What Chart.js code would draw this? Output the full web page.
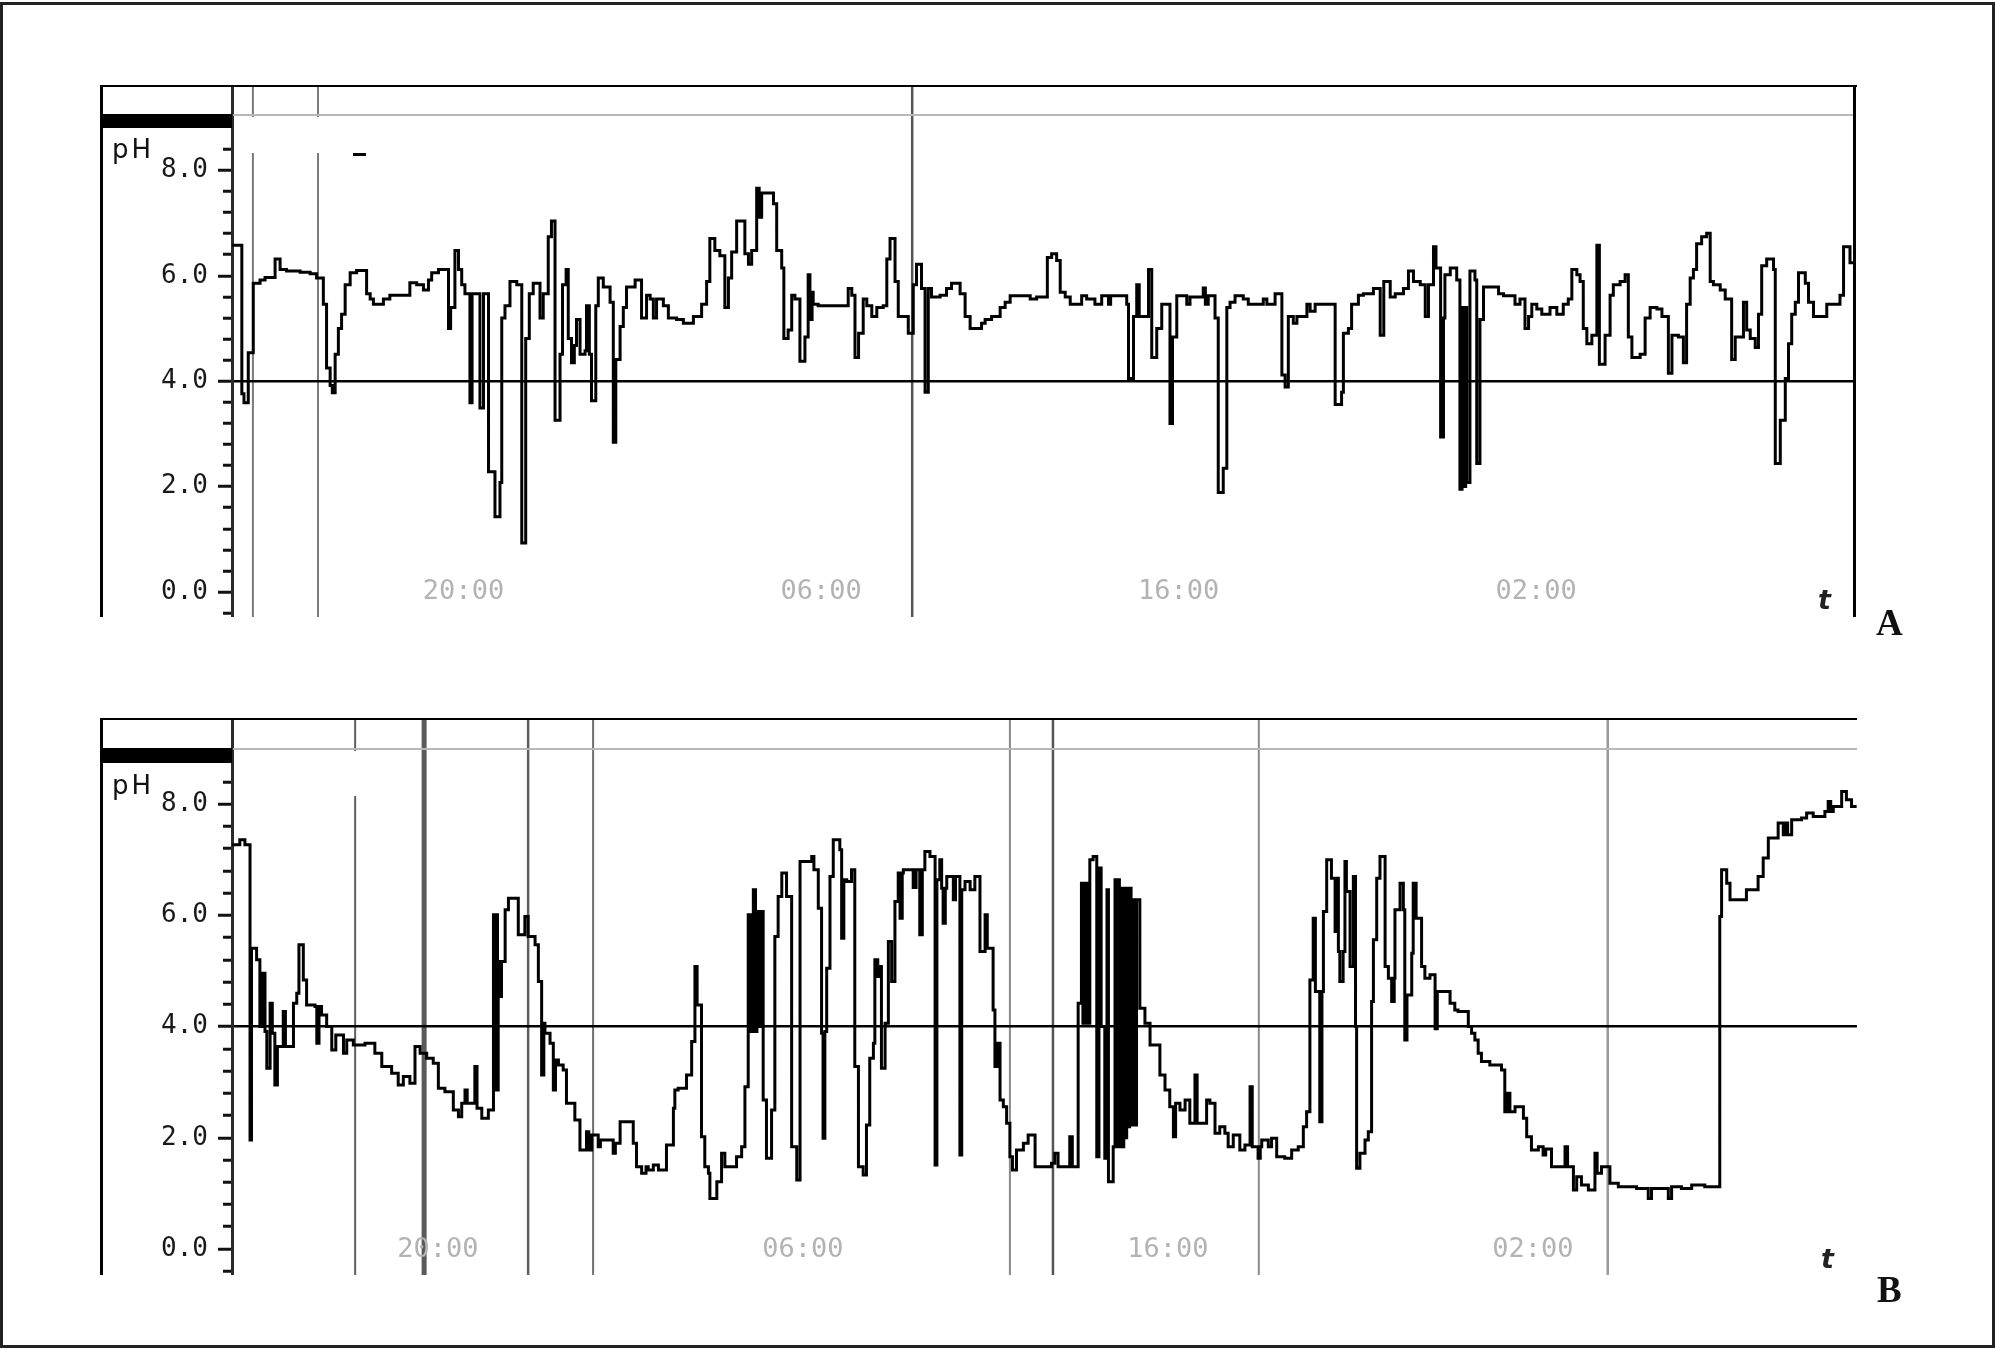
<!DOCTYPE html>
<html>
<head>
<meta charset="utf-8">
<script src="https://cdn.jsdelivr.net/npm/chart.js@4.4.1/dist/chart.umd.min.js"></script>
<style>
  body { margin: 0; background: #fff; width: 1996px; height: 1349px; position: relative; overflow: hidden; }
  .frame { position: absolute; left: 0; top: 2px; width: 1995px; height: 1346px; border: 3px solid #222; box-sizing: border-box; }
  .ln { position: absolute; background: #000; }
  .gray { background: #b8b8b8; }
  .white { position: absolute; background: #fff; }
  .ph { position: absolute; font-family: "DejaVu Sans", sans-serif; font-size: 26px; line-height: 26px; letter-spacing: 3px; color: #111; }
  .t { position: absolute; font-family: "DejaVu Sans", sans-serif; font-style: italic; font-weight: bold; font-size: 27px; line-height: 27px; color: #222; }
  .tag { position: absolute; font-family: "Liberation Serif", serif; font-weight: bold; font-size: 37px; line-height: 37px; color: #111; }
  canvas { position: absolute; }
</style>
</head>
<body>
<div class="frame"></div>

<!-- panel A -->
<canvas id="chartA" width="1754" height="531" style="left:101px;top:86px"></canvas>
<div class="white" style="left:240px;top:117px;width:85px;height:36px"></div>
<div class="ln" style="left:100px;top:85px;width:1757px;height:2px"></div>
<div class="ln" style="left:100px;top:85px;width:3px;height:532px"></div>
<div class="ln" style="left:1853px;top:85px;width:3px;height:532px"></div>
<div class="ln" style="left:101px;top:114px;width:131px;height:14px"></div>
<div class="ln gray" style="left:233px;top:114px;width:1620px;height:2px"></div>
<div class="ln" style="left:353px;top:153px;width:13px;height:3px"></div>
<div class="ph" style="left:112px;top:136px">pH</div>
<div class="t" style="left:1818px;top:586px">t</div>
<div class="tag" style="left:1876px;top:604px">A</div>

<!-- panel B -->
<canvas id="chartB" width="1756" height="556" style="left:101px;top:719px"></canvas>
<div class="white" style="left:345px;top:751px;width:20px;height:45px"></div>
<div class="ln" style="left:100px;top:718px;width:1757px;height:2px"></div>
<div class="ln" style="left:100px;top:718px;width:3px;height:557px"></div>
<div class="ln" style="left:101px;top:748px;width:131px;height:15px"></div>
<div class="ln gray" style="left:233px;top:748px;width:1624px;height:2px"></div>
<div class="ph" style="left:112px;top:772px">pH</div>
<div class="t" style="left:1821px;top:1245px">t</div>
<div class="tag" style="left:1877px;top:1271px">B</div>

<script>
// axis ticks
const phTicks = [-0.4, 0, 0.4, 0.8, 1.2, 1.6, 2, 2.4, 2.8, 3.2, 3.6, 4, 4.4, 4.8, 5.2, 5.6, 6, 6.4, 6.8, 7.2, 7.6, 8, 8.4];
const phLabelled = [0, 2, 4, 6, 8];
const timeTicks = [20, 30, 40, 50]; // hours from midnight of day 1
const timeLabels = ['20:00', '06:00', '16:00', '02:00'];

// recording A: time (h) where the reading changes, and the new pH
const hoursA = [
  13.53, 13.80, 13.86, 13.98, 14.12, 14.31, 14.45, 14.73, 14.87, 15.05,
  15.43, 15.71, 15.89, 16.08, 16.17, 16.27, 16.33, 16.41, 16.50, 16.59,
  16.69, 16.83, 17.01, 17.29, 17.39, 17.48, 17.76, 17.94, 18.50, 18.69,
  18.88, 19.02, 19.11, 19.30, 19.58, 19.64, 19.76, 19.86, 19.95, 20.04,
  20.18, 20.24, 20.46, 20.56, 20.70, 20.88, 21.02, 21.07, 21.16, 21.30,
  21.49, 21.63, 21.74, 21.84, 21.95, 22.14, 22.23, 22.37, 22.46, 22.56,
  22.70, 22.77, 22.87, 22.93, 23.02, 23.10, 23.16, 23.26, 23.40, 23.44,
  23.52, 23.58, 23.70, 23.77, 23.91, 24.10, 24.19, 24.26, 24.38, 24.47,
  24.56, 24.80, 24.98, 25.12, 25.22, 25.31, 25.40, 25.59, 25.73, 25.96,
  26.15, 26.43, 26.66, 26.80, 26.89, 27.03, 27.17, 27.31, 27.41, 27.50,
  27.64, 27.87, 27.97, 28.06, 28.20, 28.27, 28.34, 28.67, 28.76, 28.90,
  28.96, 29.08, 29.18, 29.27, 29.41, 29.55, 29.64, 29.69, 29.75, 29.78,
  29.92, 30.76, 30.86, 30.95, 31.05, 31.18, 31.28, 31.42, 31.56, 31.74,
  31.84, 31.93, 32.07, 32.16, 32.44, 32.58, 32.67, 32.81, 32.91, 33.00,
  33.09, 33.33, 33.51, 33.65, 33.89, 34.03, 34.17, 34.49, 34.59, 34.77,
  35.01, 35.15, 35.29, 35.85, 36.03, 36.33, 36.45, 36.59, 36.69, 36.83,
  36.97, 37.29, 37.43, 37.66, 37.85, 38.04, 38.10, 38.55, 38.60, 38.74,
  38.83, 38.90, 39.16, 39.25, 39.39, 39.53, 39.76, 39.83, 39.95, 40.23,
  40.32, 40.69, 40.75, 40.83, 41.02, 41.11, 41.25, 41.35, 41.44, 41.58,
  41.81, 41.95, 42.37, 42.47, 42.70, 42.89, 42.98, 43.07, 43.21, 43.31,
  43.59, 43.68, 43.82, 44.38, 44.56, 44.61, 44.75, 44.84, 45.03, 45.17,
  45.45, 45.64, 45.74, 45.92, 46.06, 46.29, 46.43, 46.57, 46.76, 46.90,
  46.99, 47.13, 47.20, 47.33, 47.41, 47.45, 47.60, 47.78, 47.87, 47.93,
  47.96, 48.03, 48.06, 48.15, 48.29, 48.34, 48.43, 48.53, 48.95, 49.09,
  49.41, 49.55, 49.69, 49.79, 49.88, 50.02, 50.16, 50.39, 50.58, 50.76,
  50.90, 51.00, 51.14, 51.23, 51.32, 51.42, 51.56, 51.70, 51.77, 51.93,
  52.07, 52.16, 52.35, 52.49, 52.58, 52.68, 52.91, 53.05, 53.19, 53.38,
  53.52, 53.70, 53.80, 53.98, 54.12, 54.21, 54.31, 54.40, 54.49, 54.63,
  54.77, 54.87, 54.96, 55.15, 55.29, 55.47, 55.57, 55.71, 55.80, 55.89,
  55.99, 56.13, 56.22, 56.31, 56.45, 56.64, 56.69, 56.83, 56.97, 57.06,
  57.15, 57.25, 57.34, 57.53, 57.62, 57.76, 58.13, 58.50, 58.60, 58.78,
  58.92
];
const phA = [
  6.58, 3.76, 3.59, 4.54, 5.86, 5.92, 5.97, 6.32, 6.12, 6.09,
  6.07, 6.04, 5.96, 5.46, 4.25, 3.92, 3.78, 4.51, 5.00, 5.27,
  5.83, 6.06, 6.10, 5.66, 5.56, 5.46, 5.56, 5.63, 5.87, 5.83,
  5.73, 5.92, 6.06, 6.12, 5.00, 5.40, 6.48, 6.12, 5.83, 5.66,
  3.59, 5.66, 3.49, 5.66, 2.28, 1.43, 2.08, 5.20, 5.43, 5.89,
  5.83, 0.93, 4.81, 5.66, 5.86, 5.20, 5.66, 6.74, 7.04, 3.26,
  4.51, 5.83, 6.12, 4.81, 4.35, 4.68, 5.17, 4.51, 4.58, 5.43,
  4.51, 3.63, 5.43, 5.96, 5.79, 5.50, 2.84, 4.41, 5.04, 5.40,
  5.79, 5.92, 5.20, 5.63, 5.56, 5.20, 5.56, 5.43, 5.20, 5.17,
  5.10, 5.23, 5.46, 5.89, 6.71, 6.48, 6.38, 5.40, 5.96, 6.45,
  7.04, 6.42, 6.22, 6.48, 7.66, 7.11, 7.57, 7.37, 6.48, 6.15,
  4.81, 4.97, 5.63, 5.56, 4.38, 4.84, 6.02, 5.17, 5.69, 5.46,
  5.43, 5.76, 5.63, 4.45, 4.91, 5.56, 5.43, 5.23, 5.40, 5.43,
  6.32, 6.71, 5.89, 5.23, 4.91, 5.83, 6.22, 5.76, 3.79, 5.76,
  5.60, 5.63, 5.76, 5.86, 5.66, 5.23, 5.00, 5.10, 5.17, 5.23,
  5.40, 5.50, 5.62, 5.56, 5.60, 6.35, 6.42, 6.29, 5.69, 5.60,
  5.46, 5.62, 5.56, 5.46, 5.62, 5.46, 5.62, 5.46, 4.05, 5.23,
  5.83, 5.23, 6.12, 4.45, 5.00, 5.46, 3.20, 4.84, 5.62, 5.46,
  5.60, 5.77, 5.46, 5.62, 5.20, 1.89, 2.35, 5.40, 5.50, 5.62,
  5.56, 5.46, 5.56, 5.46, 5.66, 4.12, 3.89, 5.23, 5.10, 5.23,
  5.46, 5.33, 5.46, 3.56, 3.79, 4.91, 5.00, 5.46, 5.63, 5.66,
  5.76, 4.87, 5.89, 5.60, 5.66, 5.76, 6.09, 5.89, 5.83, 5.23,
  5.83, 6.55, 6.15, 2.94, 5.20, 6.02, 6.15, 5.92, 1.95, 5.40,
  2.00, 5.40, 2.08, 6.09, 5.92, 2.44, 5.17, 5.79, 5.66, 5.62,
  5.46, 5.56, 5.00, 5.23, 5.46, 5.37, 5.27, 5.40, 5.27, 5.46,
  5.56, 6.12, 6.02, 5.89, 5.00, 4.71, 4.87, 6.58, 4.32, 4.87,
  5.63, 5.83, 5.89, 6.02, 4.84, 4.45, 4.51, 5.20, 5.40, 5.37,
  5.23, 4.15, 4.87, 4.84, 4.35, 5.46, 5.96, 6.12, 6.61, 6.74,
  6.81, 5.89, 5.83, 5.73, 5.56, 4.41, 4.84, 4.84, 5.50, 4.97,
  4.81, 4.64, 5.27, 6.19, 6.32, 6.12, 2.44, 3.26, 4.05, 4.71,
  5.27, 5.50, 6.06, 5.86, 5.50, 5.23, 5.46, 5.63, 6.55, 6.25,
  6.25
];

// recording B
const hoursB = [
  14.36, 14.57, 14.71, 14.85, 14.89, 15.03, 15.12, 15.18, 15.26, 15.31,
  15.40, 15.46, 15.53, 15.60, 15.76, 15.82, 16.04, 16.13, 16.19, 16.31,
  16.40, 16.63, 16.68, 16.74, 16.81, 16.95, 17.09, 17.20, 17.41, 17.50,
  17.68, 18.00, 18.27, 18.46, 18.73, 18.91, 19.05, 19.23, 19.37, 19.51,
  19.69, 19.87, 20.01, 20.19, 20.42, 20.56, 20.65, 20.74, 20.80, 21.01,
  21.07, 21.20, 21.38, 21.52, 21.56, 21.59, 21.63, 21.65, 21.70, 21.74,
  21.84, 21.93, 22.20, 22.38, 22.47, 22.66, 22.75, 22.84, 22.90, 22.93,
  23.07, 23.16, 23.22, 23.30, 23.43, 23.52, 23.75, 23.89, 24.07, 24.13,
  24.21, 24.39, 24.45, 24.80, 24.86, 24.99, 25.35, 25.44, 25.58, 25.70,
  25.76, 25.90, 26.04, 26.26, 26.45, 26.49, 26.58, 26.81, 26.95, 27.04,
  27.10, 27.22, 27.31, 27.41, 27.45, 27.64, 27.77, 27.86, 28.18, 28.32,
  28.41, 28.50, 28.54, 28.57, 28.61, 28.64, 28.70, 28.74, 28.80, 28.84,
  28.91, 29.00, 29.14, 29.23, 29.32, 29.42, 29.55, 29.69, 29.83, 29.92,
  30.24, 30.30, 30.42, 30.51, 30.55, 30.60, 30.65, 30.74, 30.83, 31.01,
  31.06, 31.12, 31.20, 31.33, 31.42, 31.52, 31.65, 31.74, 31.83, 31.93,
  31.97, 32.05, 32.11, 32.15, 32.25, 32.34, 32.43, 32.52, 32.61, 32.66,
  32.72, 32.75, 33.02, 33.10, 33.20, 33.27, 33.34, 33.48, 33.62, 33.67,
  33.75, 33.80, 33.84, 33.90, 33.94, 34.12, 34.18, 34.30, 34.35, 34.44,
  34.58, 34.71, 34.85, 34.99, 35.05, 35.21, 35.26, 35.32, 35.40, 35.49,
  35.58, 35.67, 35.74, 35.85, 36.04, 36.17, 36.36, 36.81, 36.90, 36.99,
  37.31, 37.38, 37.54, 37.63, 37.67, 37.71, 37.75, 37.79, 37.83, 37.86,
  37.95, 38.05, 38.11, 38.17, 38.27, 38.33, 38.37, 38.50, 38.55, 38.59,
  38.63, 38.67, 38.71, 38.75, 38.79, 38.83, 38.87, 38.91, 38.95, 38.99,
  39.03, 39.07, 39.14, 39.23, 39.37, 39.51, 39.78, 39.92, 40.05, 40.15,
  40.21, 40.33, 40.47, 40.60, 40.74, 40.80, 41.06, 41.15, 41.29, 41.42,
  41.56, 41.65, 41.79, 41.97, 42.11, 42.25, 42.31, 42.47, 42.53, 42.57,
  42.75, 42.84, 42.98, 43.20, 43.39, 43.57, 43.71, 43.80, 43.89, 43.98,
  44.04, 44.16, 44.22, 44.26, 44.35, 44.48, 44.58, 44.64, 44.67, 44.71,
  44.80, 44.85, 44.89, 44.99, 45.08, 45.14, 45.17, 45.26, 45.40, 45.49,
  45.58, 45.63, 45.72, 45.81, 45.95, 46.04, 46.13, 46.20, 46.22, 46.36,
  46.45, 46.49, 46.55, 46.68, 46.72, 46.80, 46.95, 47.04, 47.18, 47.32,
  47.38, 47.73, 47.86, 47.95, 48.23, 48.32, 48.41, 48.50, 48.59, 48.82,
  49.14, 49.23, 49.30, 49.37, 49.51, 49.74, 49.83, 49.96, 50.15, 50.28,
  50.35, 50.51, 50.88, 50.95, 51.11, 51.20, 51.33, 51.52, 51.70, 51.76,
  51.88, 52.11, 52.34, 52.84, 53.16, 53.25, 53.71, 53.80, 54.07, 54.35,
  54.71, 55.12, 55.17, 55.31, 55.40, 55.85, 56.17, 56.31, 56.45, 56.72,
  56.86, 56.92, 56.98, 57.09, 57.36, 57.50, 57.68, 58.00, 58.09, 58.16,
  58.23, 58.46, 58.59, 58.73, 58.87
];
const phB = [
  7.27, 7.36, 7.27, 1.96, 5.41, 5.20, 4.00, 4.96, 3.91, 3.25,
  4.42, 3.88, 2.95, 3.64, 4.27, 3.64, 4.42, 4.60, 5.47, 4.84,
  4.39, 4.36, 3.70, 4.36, 4.21, 4.00, 3.58, 3.85, 3.52, 3.76,
  3.67, 3.70, 3.52, 3.28, 3.16, 2.95, 3.10, 2.98, 3.64, 3.52,
  3.43, 3.34, 2.89, 2.83, 2.50, 2.38, 2.62, 2.86, 2.62, 3.28,
  2.53, 2.35, 2.50, 6.01, 2.86, 6.01, 2.86, 5.17, 4.54, 5.17,
  6.10, 6.31, 5.65, 5.98, 5.62, 5.47, 4.81, 3.13, 4.06, 3.88,
  3.70, 2.86, 3.40, 3.31, 3.22, 2.62, 2.32, 1.78, 2.11, 1.78,
  2.05, 1.84, 1.96, 1.72, 1.90, 2.29, 1.90, 1.48, 1.36, 1.48,
  1.42, 1.51, 1.42, 1.87, 2.53, 2.86, 2.89, 3.13, 3.73, 5.08,
  4.39, 2.02, 1.48, 1.36, 0.91, 1.21, 1.72, 1.48, 1.66, 1.84,
  2.92, 6.01, 3.91, 6.01, 3.91, 6.46, 3.91, 6.07, 4.00, 6.07,
  2.68, 1.63, 2.50, 5.62, 6.34, 6.76, 6.34, 1.84, 1.24, 6.97,
  7.06, 6.82, 6.13, 3.88, 1.99, 3.91, 5.05, 6.70, 7.36, 7.18,
  5.59, 6.64, 6.61, 6.82, 3.28, 1.48, 1.33, 2.23, 3.43, 3.70,
  5.20, 4.90, 5.08, 3.25, 4.06, 5.53, 4.81, 6.25, 6.76, 5.95,
  6.76, 6.82, 6.50, 6.82, 5.65, 6.82, 7.15, 7.06, 1.51, 6.64,
  7.00, 6.49, 5.86, 6.49, 6.70, 6.28, 6.70, 1.69, 6.46, 6.61,
  6.46, 6.70, 5.35, 6.01, 5.41, 4.30, 3.28, 3.70, 2.68, 2.56,
  2.26, 1.66, 1.42, 1.78, 1.90, 2.05, 1.48, 1.54, 1.72, 1.48,
  2.02, 1.48, 4.42, 6.58, 4.06, 6.58, 4.06, 6.58, 4.06, 7.00,
  7.06, 1.66, 6.85, 4.00, 1.63, 6.46, 1.21, 1.84, 6.64, 1.84,
  6.64, 1.84, 6.49, 1.84, 6.49, 2.00, 6.49, 2.20, 6.49, 2.23,
  6.28, 2.23, 6.28, 4.33, 4.06, 3.67, 3.13, 2.86, 2.56, 2.02,
  2.62, 2.50, 2.68, 2.26, 3.13, 2.26, 2.68, 2.62, 2.08, 2.20,
  2.08, 1.84, 2.05, 1.78, 1.87, 2.92, 1.84, 1.63, 1.84, 1.96,
  1.84, 1.99, 1.66, 1.63, 1.78, 1.84, 2.20, 2.47, 4.84, 5.95,
  4.63, 2.29, 4.63, 6.07, 7.00, 6.67, 5.71, 6.67, 5.35, 4.81,
  5.35, 6.97, 6.43, 5.08, 6.70, 4.00, 1.45, 1.72, 1.96, 2.11,
  4.45, 5.56, 6.67, 7.06, 5.08, 4.87, 4.45, 4.87, 6.10, 6.58,
  6.10, 3.76, 4.57, 5.32, 6.58, 5.95, 5.08, 4.87, 4.93, 3.96,
  4.63, 4.42, 4.30, 4.27, 4.00, 3.88, 3.76, 3.52, 3.37, 3.31,
  3.22, 2.47, 2.80, 2.47, 2.56, 2.35, 2.02, 1.78, 1.84, 1.69,
  1.80, 1.48, 1.84, 1.48, 1.06, 1.30, 1.15, 1.06, 1.72, 1.36,
  1.48, 1.18, 1.12, 1.09, 0.91, 1.09, 0.91, 1.12, 1.09, 1.15,
  1.12, 5.98, 6.82, 6.58, 6.28, 6.46, 6.70, 7.03, 7.39, 7.66,
  7.45, 7.66, 7.45, 7.72, 7.75, 7.84, 7.78, 7.87, 8.05, 7.87,
  7.96, 8.23, 8.08, 7.96, 7.96
];

// event markers (h)
const eventsA = [14.11, 15.93, 32.55];
const eventsB = [17.73, 19.62, 22.47, 24.25, 35.67, 36.85, 42.49, 52.05];
const eventStyleA = [['#7a7a7a', 2], ['#7a7a7a', 2], ['#555', 2.5]];
const eventStyleB = [['#5e5e5e', 2], ['#5a5a5a', 5], ['#5e5e5e', 2.5], ['#6e6e6e', 2],
                     ['#8a8a8a', 2], ['#555', 2.5], ['#8a8a8a', 2], ['#999', 2.5]];

function eventLines(times, style) {
  return {
    id: 'eventLines',
    beforeDraw(chart) {
      const { ctx, chartArea, scales } = chart;
      ctx.save();
      times.forEach((t, i) => {
        const px = scales.x.getPixelForValue(t);
        ctx.strokeStyle = style[i][0];
        ctx.lineWidth = style[i][1];
        ctx.beginPath();
        ctx.moveTo(px, chartArea.top);
        ctx.lineTo(px, chartArea.bottom);
        ctx.stroke();
      });
      ctx.restore();
    }
  };
}

function makeChart(id, hours, ph, events, style, xRange, yRange) {
  const isMajor = (v) => phLabelled.includes(v);
  return new Chart(document.getElementById(id), {
    type: 'line',
    data: {
      datasets: [{
        data: hours.map((h, i) => ({ x: h, y: ph[i] })),
        borderColor: '#000',
        borderWidth: 3,
        borderJoinStyle: 'miter',
        stepped: true,
        pointRadius: 0,
        fill: false
      }]
    },
    options: {
      responsive: false,
      animation: false,
      events: [],
      layout: { padding: 0 },
      plugins: { legend: { display: false }, tooltip: { enabled: false } },
      scales: {
        x: {
          type: 'linear',
          min: xRange[0],
          max: xRange[1],
          afterBuildTicks: (axis) => { axis.ticks = timeTicks.map((v) => ({ value: v })); },
          afterFit: (s) => { s.height = 0; s.paddingLeft = 0; s.paddingRight = 0; },
          grid: { display: false },
          border: { display: false },
          ticks: {
            mirror: true,
            padding: 9,
            autoSkip: false,
            maxRotation: 0,
            color: '#b3b3b3',
            font: { family: 'DejaVu Sans Mono', size: 27 },
            callback: (v, i) => timeLabels[i]
          }
        },
        y: {
          min: yRange[0],
          max: yRange[1],
          afterBuildTicks: (axis) => { axis.ticks = phTicks.map((v) => ({ value: v })); },
          afterFit: (s) => { s.width = 131; s.paddingTop = 0; s.paddingBottom = 0; },
          border: { display: true, color: '#2a2a2a', width: 3 },
          grid: {
            color: (c) => (c.tick && c.tick.value === 4 ? '#000' : 'rgba(0,0,0,0)'),
            lineWidth: 2.5,
            tickColor: '#111',
            tickWidth: 3,
            tickLength: 14,
            tickBorderDash: (c) => (c.tick && isMajor(c.tick.value) ? [] : [0, 5, 9, 0])
          },
          ticks: {
            autoSkip: false,
            padding: 10,
            color: '#1a1a1a',
            font: { family: 'DejaVu Sans Mono', size: 26 },
            callback: (v) => (isMajor(v) ? v.toFixed(1) : '')
          }
        }
      }
    },
    plugins: [eventLines(events, style)]
  });
}

makeChart('chartA', hoursA, phA, eventsA, eventStyleA, [13.525, 58.92], [-0.474, 9.602]);
makeChart('chartB', hoursB, phB, eventsB, eventStyleB, [14.356, 58.88], [-0.468, 9.532]);
</script>
</body>
</html>
